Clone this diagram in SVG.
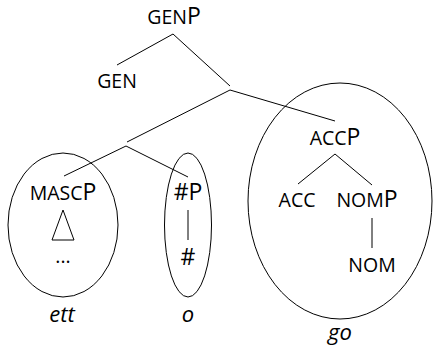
<svg xmlns="http://www.w3.org/2000/svg" width="433" height="347" viewBox="0 0 433 347">
<style>
text{font-family:"Open Sans","Noto Sans",sans-serif;font-size:19.5px;fill:#000;text-anchor:middle}
.big{font-size:23px}
.it{font-style:italic;font-size:22px}
line,ellipse,polygon{stroke:#000;stroke-width:1;fill:none}
</style>
<rect width="433" height="347" fill="#fff"/>
<g id="connectors">
<line x1="173" y1="34" x2="117" y2="65"/>
<line x1="173" y1="34" x2="230" y2="86"/>
<line x1="230" y1="90" x2="127" y2="142"/>
<line x1="230" y1="90" x2="335" y2="121"/>
<line x1="126" y1="146" x2="64" y2="176"/>
<line x1="126" y1="146" x2="188" y2="177"/>
<line x1="335" y1="154" x2="298" y2="184"/>
<line x1="335" y1="154" x2="372" y2="185"/>
<line x1="188" y1="210" x2="188" y2="240"/>
<line x1="372" y1="218" x2="372" y2="248"/>
</g>
<g id="genp"><text x="174" y="24">GEN<tspan class="big">P</tspan></text></g>
<g id="gen"><text x="117" y="88">GEN</text></g>
<g id="accp"><text x="335" y="145">ACC<tspan class="big">P</tspan></text></g>
<g id="ett-group">
<ellipse cx="63" cy="225" rx="55" ry="72"/>
<text x="63" y="200">MASC<tspan class="big">P</tspan></text>
<polygon points="63,210 52,240 74,240"/>
<text x="63" y="263">...</text>
<text class="it" x="62" y="322">ett</text>
</g>
<g id="o-group">
<ellipse cx="188" cy="225" rx="23.5" ry="72"/>
<text x="188" y="200" class="big">#P</text>
<text x="188" y="265" class="big">#</text>
<text class="it" x="188" y="322">o</text>
</g>
<g id="go-group">
<ellipse cx="340" cy="201" rx="92" ry="118"/>
<text x="297" y="207">ACC</text>
<text x="367" y="207">NOM<tspan class="big">P</tspan></text>
<text x="372" y="272">NOM</text>
<text class="it" x="340" y="340">go</text>
</g>
</svg>
